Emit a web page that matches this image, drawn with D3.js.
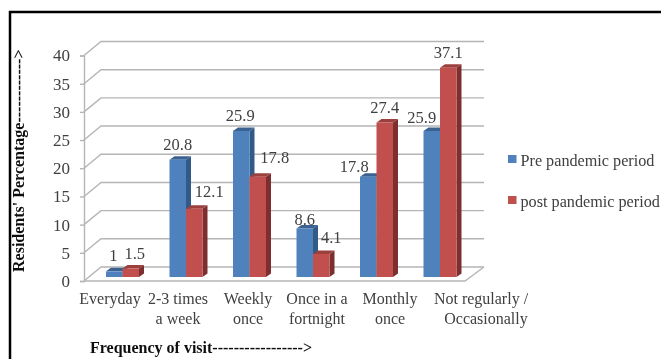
<!DOCTYPE html>
<html>
<head>
<meta charset="utf-8">
<script src="https://cdn.jsdelivr.net/npm/d3@7/dist/d3.min.js"></script>
<style>
    html, body { margin: 0; padding: 0; background: #fff; }
    svg { display: block; }
    text { font-family: "Liberation Serif", serif; fill: #404040; }
</style>
</head>
<body>
<div id="chart"></div>
<script>
const categories = ["Everyday", "2-3 times|a week", "Weekly|once", "Once in a|fortnight", "Monthly|once", "Not regularly /|Occasionally"];
const prePandemic = [1, 20.8, 25.9, 8.6, 17.8, 25.9];
const postPandemic = [1.5, 12.1, 17.8, 4.1, 27.4, 37.1];
const yTicks = [0, 5, 10, 15, 20, 25, 30, 35, 40];
const seriesNames = ["Pre pandemic period", "post pandemic period"];

const width = 661, height = 359;
const depthX = 17, depthY = 14;   // floor depth of the 3d box
const barDX = 5, barDY = 3.5;     // depth of one bar
const barLift = 4;                // bars stand a bit behind the front edge
const barW = 16.5;

const blue = "#4f81bd", red = "#c0504d";
const sides = { [blue]: ["#3a6291", "#335a88"], [red]: ["#9c3f3c", "#7d2f2d"] };

// hand nudges for labels that sit beside a bar instead of on top [dx, dy]
const preNudge = [[-1, 0], [0, 0], [-1, 0], [0, 6.5], [-14, 5], [-10, 2]];
const postNudge = [[4, 0], [15, -2], [17, -4], [10, -1], [0, 0], [0, 0]];
// category labels don't follow the bars exactly
const catCentre = [110, 178, 248, 317, 390, 481];

const svg = d3.select("#chart").append("svg")
    .attr("width", width)
    .attr("height", height);

svg.append("defs").append("filter")
    .attr("id", "soft")
    .append("feGaussianBlur")
    .attr("stdDeviation", 0.45);

const root = svg.append("g").attr("filter", "url(#soft)");

root.append("rect").attr("width", width).attr("height", height).attr("fill", "#fff");

// frame, only top and left are visible
root.append("path")
    .attr("d", "M10,359V12H661")
    .attr("fill", "none")
    .attr("stroke", "#000")
    .attr("stroke-width", 2.5);

const y = d3.scaleLinear().domain([0, 40]).range([281, 55.5]);
const x = d3.scaleBand()
    .domain(d3.range(categories.length))
    .range([106, 106 + 63.5 * categories.length]);

const grid = root.append("g").attr("fill", "none").attr("stroke", "#b5b5b5").attr("stroke-width", 1.4);

yTicks.forEach(function (t) {
    grid.append("path")
        .attr("d", "M84," + y(t) + "L" + (84 + depthX) + "," + (y(t) - depthY) + "H484");
});
grid.append("path").attr("d", "M84," + y(0) + "H465L484," + (y(0) - depthY));

const yAxis = d3.axisLeft(y).tickValues(yTicks).tickSize(4).tickPadding(10);
const yG = root.append("g").attr("transform", "translate(84,0)").call(yAxis);
yG.selectAll("path, line").attr("stroke", "#b5b5b5").attr("stroke-width", 1.4);
yG.selectAll("text").style("font-size", "17px").style("font-family", "Liberation Serif").attr("fill", "#404040");

function drawBar(g, x0, v, color) {
    const top = y(v) - barLift, base = y(0) - barLift;
    g.append("path")
        .attr("d", "M" + (x0 + barW) + "," + top + "l" + barDX + "," + (-barDY) + "V" + (base - barDY) + "l" + (-barDX) + "," + barDY + "Z")
        .attr("fill", sides[color][1]);
    g.append("path")
        .attr("d", "M" + x0 + "," + top + "l" + barDX + "," + (-barDY) + "h" + barW + "l" + (-barDX) + "," + barDY + "Z")
        .attr("fill", sides[color][0]);
    g.append("rect")
        .attr("x", x0).attr("y", top)
        .attr("width", barW).attr("height", base - top)
        .attr("fill", color);
}

function barLabel(x0, v, nudge) {
    root.append("text")
        .attr("x", x0 + barW / 2 + nudge[0])
        .attr("y", y(v) - barLift - 10 + nudge[1])
        .attr("text-anchor", "middle")
        .style("font-size", "16.5px")
        .text(v);
}

categories.forEach(function (c, i) {
    const g = root.append("g");
    drawBar(g, x(i), prePandemic[i], blue);
    drawBar(g, x(i) + barW, postPandemic[i], red);
});

categories.forEach(function (c, i) {
    barLabel(x(i), prePandemic[i], preNudge[i]);
    barLabel(x(i) + barW, postPandemic[i], postNudge[i]);
});

// category labels, two lines split on |
categories.forEach(function (c, i) {
    const t = root.append("text")
        .attr("text-anchor", "middle")
        .attr("y", 303.5)
        .style("font-size", "16px");
    c.split("|").forEach(function (line, k) {
        t.append("tspan")
            .attr("x", catCentre[i] + (i === 5 && k === 1 ? 5 : 0))
            .attr("dy", k === 0 ? 0 : 20.5)
            .text(line);
    });
});

// legend
const legend = root.selectAll(".leg")
    .data(seriesNames)
    .enter().append("g")
    .attr("class", "leg")
    .attr("transform", function (d, i) { return "translate(508," + (163 + i * 41) + ")"; });

legend.append("rect")
    .attr("y", -8)
    .attr("width", 8.5).attr("height", 8)
    .attr("fill", function (d, i) { return i === 0 ? blue : red; });

legend.append("text")
    .attr("x", 12.5).attr("y", 2.5)
    .style("font-size", "16.2px")
    .text(function (d) { return d; });

// axis titles
root.append("text")
    .attr("transform", "translate(24,272) rotate(-90)")
    .style("font-size", "16px")
    .style("font-weight", "bold")
    .style("fill", "#111")
    .text("Residents' Percentage------------>");

root.append("text")
    .attr("x", 90).attr("y", 353)
    .style("font-size", "16px")
    .style("font-weight", "bold")
    .style("fill", "#111")
    .text("Frequency of visit----------------->");
</script>
</body>
</html>
